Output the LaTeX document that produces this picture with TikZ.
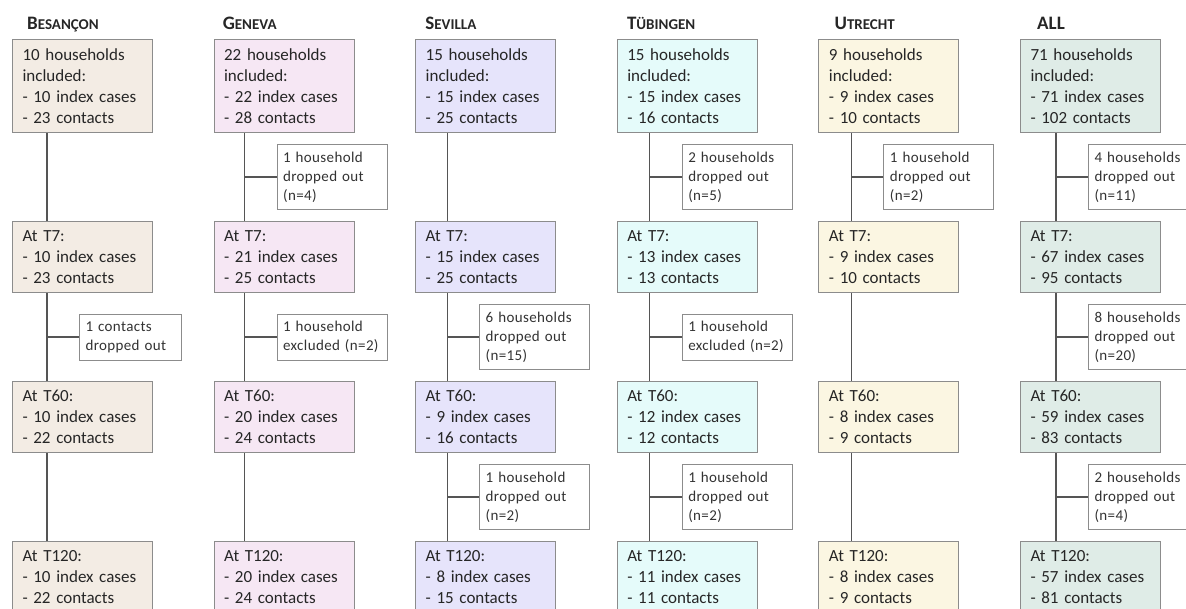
\documentclass[tikz,border=0pt]{standalone}
\usepackage{fontspec}
\setmainfont{Carlito}
\usetikzlibrary{positioning}

\definecolor{besfill}{HTML}{F3ECE4}
\definecolor{genfill}{HTML}{F6E7F4}
\definecolor{sevfill}{HTML}{E6E4FB}
\definecolor{tubfill}{HTML}{E5FBFA}
\definecolor{utrfill}{HTML}{FBF6E2}
\definecolor{allfill}{HTML}{DFECE7}
\definecolor{boxline}{HTML}{8C8C8C}
\definecolor{linkline}{HTML}{555555}

\newcommand{\sitename}[2]{#1{\fontsize{15}{17}\selectfont #2}}

\tikzset{
  stage/.style={draw=boxline, line width=1pt, text width=120pt, inner xsep=10pt,
    minimum height=71.5pt, align=left, font=\fontsize{17}{21}\selectfont, text=black!85},
  bes/.style={stage, fill=besfill}, gen/.style={stage, fill=genfill},
  sev/.style={stage, fill=sevfill}, tub/.style={stage, fill=tubfill},
  utr/.style={stage, fill=utrfill}, all/.style={stage, fill=allfill},
  drop/.style={draw=boxline, fill=white, line width=1pt, text width=98pt, inner xsep=6pt,
    minimum height=#1, align=left, anchor=west,
    font=\fontsize{15}{19}\selectfont\addfontfeatures{LetterSpace=2.5}, text=black!80},
  drop/.default=65pt,
  head/.style={anchor=base west, inner sep=0pt, font=\fontsize{19}{21}\selectfont\bfseries, text=black!85},
  link/.style={draw=linkline, line width=1.2pt},
}

\begin{document}
\begin{tikzpicture}[x=1pt, y=-1pt]
    \useasboundingbox (0,0) rectangle (1186,608);
    \clip (0,0) rectangle (1186,608);

    % inclusion
    \node[bes, minimum height=93pt, anchor=north west] (bes1) at (12,39) {10 households\\included:\\- 10 index cases\\- 23 contacts};
    \node[gen, minimum height=93pt, right=60.6pt of bes1] (gen1) {22 households\\included:\\- 22 index cases\\- 28 contacts};
    \node[sev, minimum height=93pt, right=60.6pt of gen1] (sev1) {15 households\\included:\\- 15 index cases\\- 25 contacts};
    \node[tub, minimum height=93pt, right=60.6pt of sev1] (tub1) {15 households\\included:\\- 15 index cases\\- 16 contacts};
    \node[utr, minimum height=93pt, right=60.6pt of tub1] (utr1) {9 households\\included:\\- 9 index cases\\- 10 contacts};
    \node[all, minimum height=93pt, right=60.6pt of utr1] (all1) {71 households\\included:\\- 71 index cases\\- 102 contacts};

    \node[head] (besname) at ([shift={(15pt,10pt)}]bes1.north west) {\sitename{B}{ESANÇON}};
    \node[head] (genname) at ([shift={(9pt,10pt)}]gen1.north west) {\sitename{G}{ENEVA}};
    \node[head] (sevname) at ([shift={(10pt,10pt)}]sev1.north west) {\sitename{S}{EVILLA}};
    \node[head] (tubname) at ([shift={(10pt,10pt)}]tub1.north west) {\sitename{T}{ÜBINGEN}};
    \node[head] (utrname) at ([shift={(16pt,10pt)}]utr1.north west) {\sitename{U}{TRECHT}};
    \node[head] (allname) at ([shift={(17pt,10pt)}]all1.north west) {\sitename{ALL}{}};

    % T7
    \node[bes, below=87.5pt of bes1] (bes2) {At T7:\\- 10 index cases\\- 23 contacts};
    \node[gen, below=87.5pt of gen1] (gen2) {At T7:\\- 21 index cases\\- 25 contacts};
    \node[sev, below=87.5pt of sev1] (sev2) {At T7:\\- 15 index cases\\- 25 contacts};
    \node[tub, below=87.5pt of tub1] (tub2) {At T7:\\- 13 index cases\\- 13 contacts};
    \node[utr, below=87.5pt of utr1] (utr2) {At T7:\\- 9 index cases\\- 10 contacts};
    \node[all, below=87.5pt of all1] (all2) {At T7:\\- 67 index cases\\- 95 contacts};

    % T60
    \node[bes, below=87.5pt of bes2] (bes3) {At T60:\\- 10 index cases\\- 22 contacts};
    \node[gen, below=87.5pt of gen2] (gen3) {At T60:\\- 20 index cases\\- 24 contacts};
    \node[sev, below=87.5pt of sev2] (sev3) {At T60:\\- 9 index cases\\- 16 contacts};
    \node[tub, below=87.5pt of tub2] (tub3) {At T60:\\- 12 index cases\\- 12 contacts};
    \node[utr, below=87.5pt of utr2] (utr3) {At T60:\\- 8 index cases\\- 9 contacts};
    \node[all, below=87.5pt of all2] (all3) {At T60:\\- 59 index cases\\- 83 contacts};

    % T120
    \node[bes, below=87.5pt of bes3] (bes4) {At T120:\\- 10 index cases\\- 22 contacts};
    \node[gen, below=87.5pt of gen3] (gen4) {At T120:\\- 20 index cases\\- 24 contacts};
    \node[sev, below=87.5pt of sev3] (sev4) {At T120:\\- 8 index cases\\- 15 contacts};
    \node[tub, below=87.5pt of tub3] (tub4) {At T120:\\- 11 index cases\\- 11 contacts};
    \node[utr, below=87.5pt of utr3] (utr4) {At T120:\\- 8 index cases\\- 9 contacts};
    \node[all, below=87.5pt of all3] (all4) {At T120:\\- 57 index cases\\- 81 contacts};

    % timelines
    \coordinate (besj1) at ([xshift=35pt]bes1.south west);
    \coordinate (besj2) at ([xshift=35pt]bes2.south west);
    \coordinate (besj3) at ([xshift=35pt]bes3.south west);
    \coordinate (genj1) at ([xshift=31pt]gen1.south west);
    \coordinate (genj2) at ([xshift=31pt]gen2.south west);
    \coordinate (genj3) at ([xshift=31pt]gen3.south west);
    \coordinate (sevj1) at ([xshift=32pt]sev1.south west);
    \coordinate (sevj2) at ([xshift=32pt]sev2.south west);
    \coordinate (sevj3) at ([xshift=32pt]sev3.south west);
    \coordinate (tubj1) at ([xshift=33pt]tub1.south west);
    \coordinate (tubj2) at ([xshift=33pt]tub2.south west);
    \coordinate (tubj3) at ([xshift=33pt]tub3.south west);
    \coordinate (utrj1) at ([xshift=33pt]utr1.south west);
    \coordinate (utrj2) at ([xshift=33pt]utr2.south west);
    \coordinate (utrj3) at ([xshift=33pt]utr3.south west);
    \coordinate (allj1) at ([xshift=36pt]all1.south west);
    \coordinate (allj2) at ([xshift=36pt]all2.south west);
    \coordinate (allj3) at ([xshift=36pt]all3.south west);

    \draw[link] (besj1) -- (besj1 |- bes2.north);
    \draw[link] (besj2) -- (besj2 |- bes3.north);
    \draw[link] (besj3) -- (besj3 |- bes4.north);
    \draw[link] (genj1) -- (genj1 |- gen2.north);
    \draw[link] (genj2) -- (genj2 |- gen3.north);
    \draw[link] (genj3) -- (genj3 |- gen4.north);
    \draw[link] (sevj1) -- (sevj1 |- sev2.north);
    \draw[link] (sevj2) -- (sevj2 |- sev3.north);
    \draw[link] (sevj3) -- (sevj3 |- sev4.north);
    \draw[link] (tubj1) -- (tubj1 |- tub2.north);
    \draw[link] (tubj2) -- (tubj2 |- tub3.north);
    \draw[link] (tubj3) -- (tubj3 |- tub4.north);
    \draw[link] (utrj1) -- (utrj1 |- utr2.north);
    \draw[link] (utrj2) -- (utrj2 |- utr3.north);
    \draw[link] (utrj3) -- (utrj3 |- utr4.north);
    \draw[link] (allj1) -- (allj1 |- all2.north);
    \draw[link] (allj2) -- (allj2 |- all3.north);
    \draw[link] (allj3) -- (allj3 |- all4.north);

    % losses
    \node[drop=46pt, text width=90pt] (besd2) at ([shift={(32pt,-44pt)}]besj2) {1 contacts\\dropped out};
    \node[drop] (gend1) at ([shift={(32pt,-44pt)}]genj1) {1 household\\dropped out\\(n=4)};
    \node[drop=46pt] (gend2) at ([shift={(32pt,-44pt)}]genj2) {1 household\\excluded (n=2)};
    \node[drop] (sevd2) at ([shift={(32pt,-44pt)}]sevj2) {6 households\\dropped out\\(n=15)};
    \node[drop] (sevd3) at ([shift={(32pt,-44pt)}]sevj3) {1 household\\dropped out\\(n=2)};
    \node[drop] (tubd1) at ([shift={(32pt,-44pt)}]tubj1) {2 households\\dropped out\\(n=5)};
    \node[drop=46pt] (tubd2) at ([shift={(32pt,-44pt)}]tubj2) {1 household\\excluded (n=2)};
    \node[drop] (tubd3) at ([shift={(32pt,-44pt)}]tubj3) {1 household\\dropped out\\(n=2)};
    \node[drop] (utrd1) at ([shift={(32pt,-44pt)}]utrj1) {1 household\\dropped out\\(n=2)};
    \node[drop] (alld1) at ([shift={(32pt,-44pt)}]allj1) {4 households\\dropped out\\(n=11)};
    \node[drop] (alld2) at ([shift={(32pt,-44pt)}]allj2) {8 households\\dropped out\\(n=20)};
    \node[drop] (alld3) at ([shift={(32pt,-44pt)}]allj3) {2 households\\dropped out\\(n=4)};

    \draw[link] (besd2.west) -- (besd2.west -| besj2);
    \draw[link] (gend1.west) -- (gend1.west -| genj1);
    \draw[link] (gend2.west) -- (gend2.west -| genj2);
    \draw[link] (sevd2.west) -- (sevd2.west -| sevj2);
    \draw[link] (sevd3.west) -- (sevd3.west -| sevj3);
    \draw[link] (tubd1.west) -- (tubd1.west -| tubj1);
    \draw[link] (tubd2.west) -- (tubd2.west -| tubj2);
    \draw[link] (tubd3.west) -- (tubd3.west -| tubj3);
    \draw[link] (utrd1.west) -- (utrd1.west -| utrj1);
    \draw[link] (alld1.west) -- (alld1.west -| allj1);
    \draw[link] (alld2.west) -- (alld2.west -| allj2);
    \draw[link] (alld3.west) -- (alld3.west -| allj3);
\end{tikzpicture}
\end{document}
